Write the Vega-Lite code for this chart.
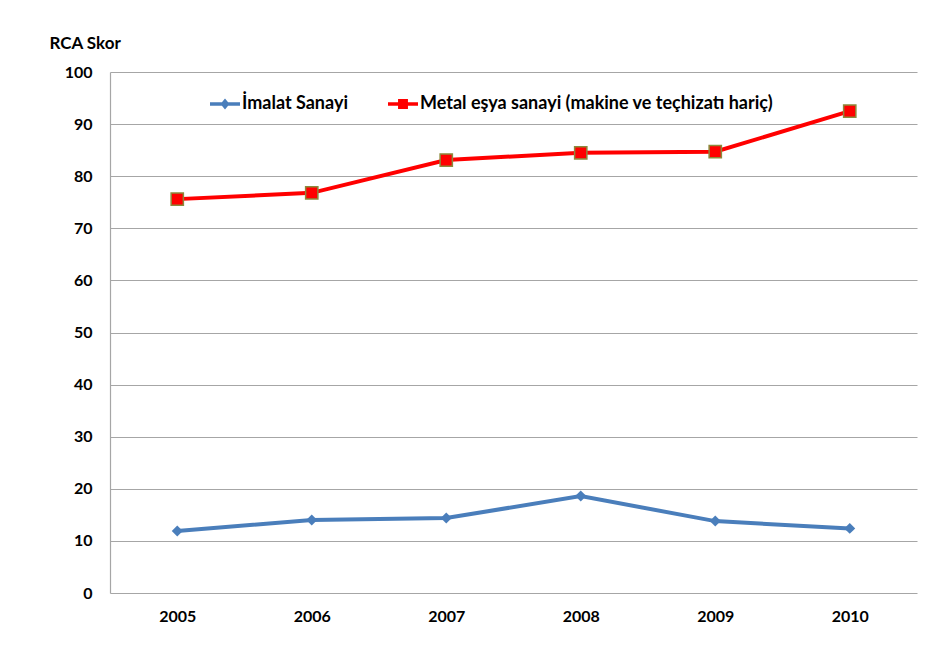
{
  "$schema": "https://vega.github.io/schema/vega-lite/v6.json",
  "width": 807,
  "height": 521,
  "autosize": "none",
  "padding": {"left": 110, "top": 72, "right": 28, "bottom": 62},
  "background": "white",
  "config": {
    "view": {"stroke": null},
    "font": "Lato",
    "axis": {"labelFont": "Lato", "labelFontWeight": "bold", "labelFontSize": 16, "labelColor": "#000000"}
  },
  "data": {
    "values": [
      {"year": "2005", "series": "İmalat Sanayi", "value": 11.9},
      {"year": "2006", "series": "İmalat Sanayi", "value": 14.0},
      {"year": "2007", "series": "İmalat Sanayi", "value": 14.4},
      {"year": "2008", "series": "İmalat Sanayi", "value": 18.6},
      {"year": "2009", "series": "İmalat Sanayi", "value": 13.8},
      {"year": "2010", "series": "İmalat Sanayi", "value": 12.4},
      {"year": "2005", "series": "Metal eşya sanayi (makine ve teçhizatı hariç)", "value": 75.6},
      {"year": "2006", "series": "Metal eşya sanayi (makine ve teçhizatı hariç)", "value": 76.8},
      {"year": "2007", "series": "Metal eşya sanayi (makine ve teçhizatı hariç)", "value": 83.1},
      {"year": "2008", "series": "Metal eşya sanayi (makine ve teçhizatı hariç)", "value": 84.5},
      {"year": "2009", "series": "Metal eşya sanayi (makine ve teçhizatı hariç)", "value": 84.7},
      {"year": "2010", "series": "Metal eşya sanayi (makine ve teçhizatı hariç)", "value": 92.5}
    ]
  },
  "encoding": {
    "x": {
      "field": "year", "type": "ordinal",
      "scale": {"type": "point", "padding": 0.5},
      "axis": {"title": null, "labelAngle": 0, "grid": false, "domain": false, "ticks": false, "labelPadding": 15}
    },
    "y": {
      "field": "value", "type": "quantitative",
      "scale": {"domain": [0, 100], "nice": false},
      "axis": {
        "title": "RCA Skor", "titleAngle": 0, "titleX": -61, "titleY": -29, "titleAlign": "left", "titleBaseline": "middle",
        "titleFont": "Lato", "titleFontWeight": "bold", "titleFontSize": 17, "titleColor": "#000000",
        "values": [0, 10, 20, 30, 40, 50, 60, 70, 80, 90, 100],
        "grid": true, "gridColor": "#a6a6a6", "gridWidth": 1.2,
        "domain": true, "domainColor": "#a6a6a6", "domainWidth": 1.2,
        "ticks": false, "labelPadding": 18
      }
    }
  },
  "layer": [
    {
      "mark": {"type": "line", "strokeWidth": 4},
      "encoding": {
        "color": {
          "field": "series", "type": "nominal",
          "scale": {"domain": ["İmalat Sanayi", "Metal eşya sanayi (makine ve teçhizatı hariç)"], "range": ["#4A7EBB", "#FF0000"]},
          "legend": {
            "title": null, "orient": "none", "direction": "horizontal", "legendX": 100, "legendY": 17,
            "symbolSize": 900, "columnPadding": 40, "labelOffset": 2,
            "labelFont": "Lato", "labelFontWeight": "bold", "labelFontSize": 18, "labelColor": "#000000", "labelLimit": 500,
            "encode": {
              "symbols": {
                "update": {
                  "shape": {"signal": "datum.value === 'İmalat Sanayi' ? 'M-1,-0.12L1,-0.12L1,0.12L-1,0.12Z M0,-0.36L0.3,0L0,0.36L-0.3,0Z' : 'M-1,-0.12L1,-0.12L1,0.12L-1,0.12Z M-0.33,-0.33L0.33,-0.33L0.33,0.33L-0.33,0.33Z'"},
                  "size": {"value": 900},
                  "fill": {"signal": "datum.value === 'İmalat Sanayi' ? '#4A7EBB' : '#FF0000'"},
                  "stroke": {"value": "transparent"},
                  "strokeWidth": {"value": 0}
                }
              }
            }
          }
        }
      }
    },
    {
      "transform": [{"filter": "datum.series === 'İmalat Sanayi'"}],
      "mark": {"type": "point", "shape": "diamond", "filled": true, "opacity": 1, "size": 120, "color": "#4A7EBB"}
    },
    {
      "transform": [{"filter": "datum.series !== 'İmalat Sanayi'"}],
      "mark": {"type": "point", "shape": "square", "filled": true, "opacity": 1, "size": 150, "fill": "#FF0000", "stroke": "#8C8A3C", "strokeWidth": 1.5}
    }
  ]
}
